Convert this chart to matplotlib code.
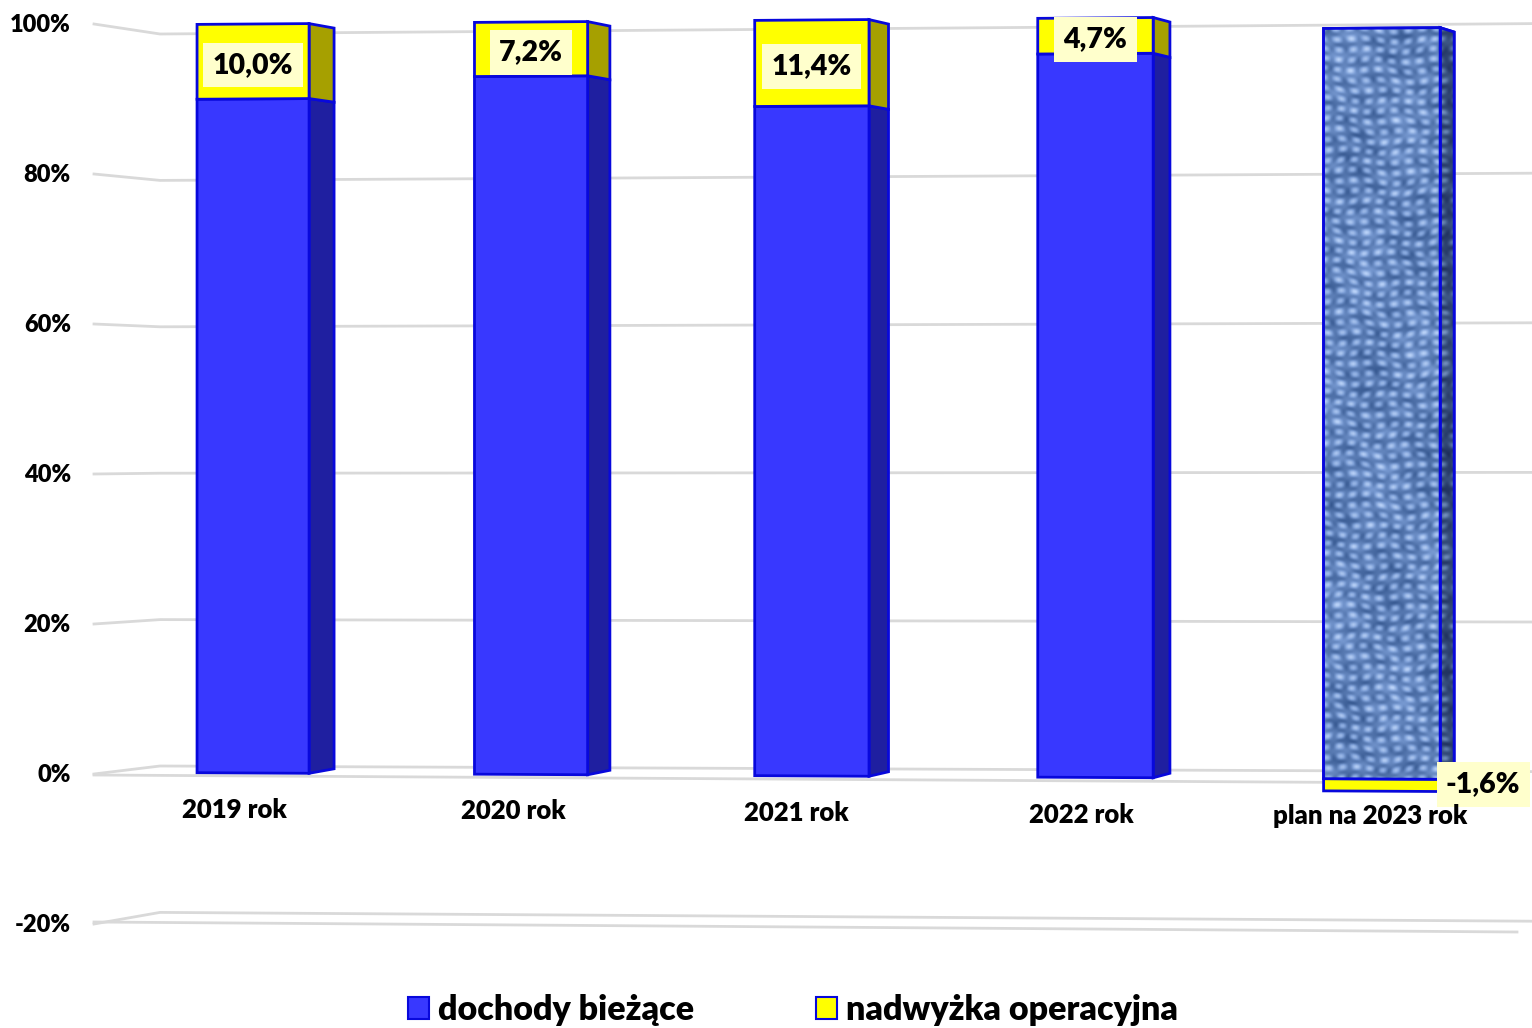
import numpy as np
import matplotlib
matplotlib.use("Agg")
import matplotlib.pyplot as plt
from matplotlib.colors import LinearSegmentedColormap
from matplotlib.patches import Patch, Polygon
from matplotlib.transforms import ScaledTranslation, Transform

plt.rcParams['font.family'] = ['Lato', 'DejaVu Sans']
plt.rcParams['font.weight'] = 'heavy'

categories = ['2019 rok', '2020 rok', '2021 rok', '2022 rok', 'plan na 2023 rok']
current = [90.0, 92.8, 88.6, 95.3, 98.4]
surplus = [10.0, 7.2, 11.4, 4.7, -1.6]
surplus_labels = ['10,0%', '7,2%', '11,4%', '4,7%', '-1,6%']
ticks = [100, 80, 60, 40, 20, 0, -20]
tick_labels = ['100%', '80%', '60%', '40%', '20%', '0%', '-20%']
series_names = ['dochody bieżące', 'nadwyżka operacyjna']

BLUE = '#3838FF'
BLUE_SIDE = '#1F1FA0'
YELLOW = '#FFFF00'
YELLOW_SIDE = '#A6A000'
EDGE = '#0808DC'
GRID = '#D9D9D9'
BOX = '#FFFFCC'
BAR_W = 0.405
EDGE_W = 2.0


def pct_axis(px):
    # picture row -> position on the percent axis
    return (774 - np.asarray(px, dtype=float)) / 7.5


def project(u, pct, depth=0.0):
    # the chart is a slightly tilted 3D view: category/percent -> axes x/y
    u = np.asarray(u, dtype=float)
    pct = np.asarray(pct, dtype=float)
    x = 253 + 276.6 * u + 1.4 * u ** 2
    row = 773 + 0.0053 * (x - 253) - (7.49 + 0.000125 * (x - 253)) * pct
    row = row + depth * (pct - 50) * 0.09
    x = x + depth * (25 - 2.75 * np.round(u))
    return x, pct_axis(row)


class Tilt(Transform):
    input_dims = 2
    output_dims = 2

    def transform_non_affine(self, values):
        values = np.asarray(values)
        x, y = project(values[:, 0], values[:, 1])
        return np.column_stack([x, y])


def side_face(ax, i, low, high, color):
    edge = i + BAR_W / 2
    x0, y0 = project(edge, low)
    x1, y1 = project(edge, high)
    x2, y2 = project(edge, high, 1)
    x3, y3 = project(edge, low, 1)
    poly = Polygon([[x0, y0], [x1, y1], [x2, y2], [x3, y3]], closed=True,
                   facecolor=color, edgecolor=EDGE, linewidth=EDGE_W, zorder=3)
    ax.add_patch(poly)
    return poly


def weave(w, h):
    # canvas look of the plan bar, only a fill style
    yy, xx = np.mgrid[0:h, 0:w].astype(float)
    warp = np.sin(2 * np.pi * xx / 8.3 + 0.9 * np.sin(yy / 31.0) + 0.8 * np.sin(yy / 7.3 + xx / 19.0))
    weft = np.sin(2 * np.pi * yy / 9.7 + 0.9 * np.sin(xx / 17.0) + 0.8 * np.sin(xx / 5.9 - yy / 23.0))
    patchy = np.sin(xx / 5.1 + yy / 11.3) * np.sin(yy / 3.7 - xx / 9.9)
    blotch = np.sin(xx / 13.1 - yy / 29.3) + np.sin(yy / 41.0 + xx / 7.7)
    return warp * 0.3 + weft * 0.3 + warp * weft * 0.35 + patchy * 0.3 + blotch * 0.08


fig = plt.figure(figsize=(15.32, 10.28), dpi=100)
ax = fig.add_axes([0, 0, 1, 1])
tilt = Tilt() + ax.transData

# walls and floor lines
for p in ticks:
    xs = [94, 160, 1532]
    rows = [774 - 7.5 * p, 766 - 7.32 * p, 771.6 - 7.48 * p]
    ax.plot(xs, pct_axis(rows), color=GRID, lw=2.0, zorder=1, solid_joinstyle='round')
ax.plot([94, 1440], pct_axis([775, 783]), color=GRID, lw=2.0, zorder=1)
ax.plot([94, 1517], pct_axis([922, 932]), color=GRID, lw=2.0, zorder=1)

pos = np.arange(len(categories))
cur = np.array(current)
sur = np.array(surplus)
bottoms = np.where(sur > 0, cur, 0)

bars1 = ax.bar(pos, cur, BAR_W, color=BLUE, edgecolor=EDGE, linewidth=EDGE_W,
               transform=tilt, zorder=4)
bars2 = ax.bar(pos, sur, BAR_W, bottom=bottoms, color=YELLOW, edgecolor=EDGE, linewidth=EDGE_W,
               transform=tilt, zorder=4)

sides = []
for i in pos:
    sides.append(side_face(ax, i, 0, cur[i], BLUE_SIDE))
    if sur[i] > 0:
        side_face(ax, i, cur[i], cur[i] + sur[i], YELLOW_SIDE)

# texture of the plan bar
light = LinearSegmentedColormap.from_list('cloth', ['#35578F', '#7C9ED6', '#BDD5FA'])
dark = LinearSegmentedColormap.from_list('cloth2', ['#1C2C58', '#46618F', '#7F9AC8'])
tex = weave(140, 790)
bar5 = bars1.patches[4]
x5, top5 = project(4 - BAR_W, 104)
x6, bottom5 = project(4 + BAR_W, -4)
im = ax.imshow(tex, extent=[x5, x6, bottom5, top5], cmap=light, aspect='auto',
               interpolation='bilinear', zorder=4.1)
im.set_clip_path(bar5)
im2 = ax.imshow(tex, extent=[x5, x6 + 30, bottom5, top5], cmap=dark, aspect='auto',
                interpolation='bilinear', zorder=3.1)
im2.set_clip_path(sides[4])
bar5_outline = Polygon(np.column_stack(project([4 - BAR_W / 2, 4 - BAR_W / 2, 4 + BAR_W / 2, 4 + BAR_W / 2],
                                               [0, cur[4], cur[4], 0])),
                       closed=True, fill=False, edgecolor=EDGE, linewidth=EDGE_W, zorder=4.2)
ax.add_patch(bar5_outline)
side5 = Polygon(sides[4].get_xy(), closed=True, fill=False, edgecolor=EDGE, linewidth=EDGE_W, zorder=3.2)
ax.add_patch(side5)

# value labels
for i in pos:
    if sur[i] > 0:
        x, y = project(i, cur[i] + sur[i] / 2)
        off = (0, -2.5)
    else:
        x, y = project(i, sur[i] / 2)
        off = (73, 0.5)
    ax.annotate(surplus_labels[i], (x, y), xytext=off, textcoords='offset points',
                ha='center', va='center', fontsize=20.5, color='black', zorder=6,
                bbox=dict(boxstyle='square,pad=0.33', facecolor=BOX, edgecolor='none'))

# category labels sit a bit to the left of each bar
for i in pos:
    x, y = project(i - 0.069 + 0.007 * i, -4.9)
    ax.text(x, y, categories[i], ha='center', va='center', fontsize=18.5, color='black', zorder=6)

ax.set_xlim(0, 1532)
ax.set_ylim(pct_axis(1028), pct_axis(0))
ax.set_xticks([])
ax.set_yticks(ticks, tick_labels)
ax.tick_params(axis='y', length=0, pad=-51, labelsize=17, labelcolor='black')
up = ScaledTranslation(0, 1.0 / 72, fig.dpi_scale_trans)
for lab in ax.get_yticklabels():
    lab.set_transform(lab.get_transform() + up)
for s in ax.spines.values():
    s.set_visible(False)
ax.patch.set_alpha(0)

handles = [Patch(facecolor=BLUE, edgecolor=EDGE, linewidth=1.5),
           Patch(facecolor=YELLOW, edgecolor=EDGE, linewidth=1.5)]
ax.legend(handles, series_names, loc='center', bbox_to_anchor=(793 / 1532, 1 - 1010 / 1028), ncol=2,
          frameon=False, fontsize=24.5, handlelength=0.62, handleheight=0.62, handletextpad=0.25,
          columnspacing=3.6, borderpad=0, labelcolor='black')

fig.savefig('out.png', dpi=100, facecolor='white')
